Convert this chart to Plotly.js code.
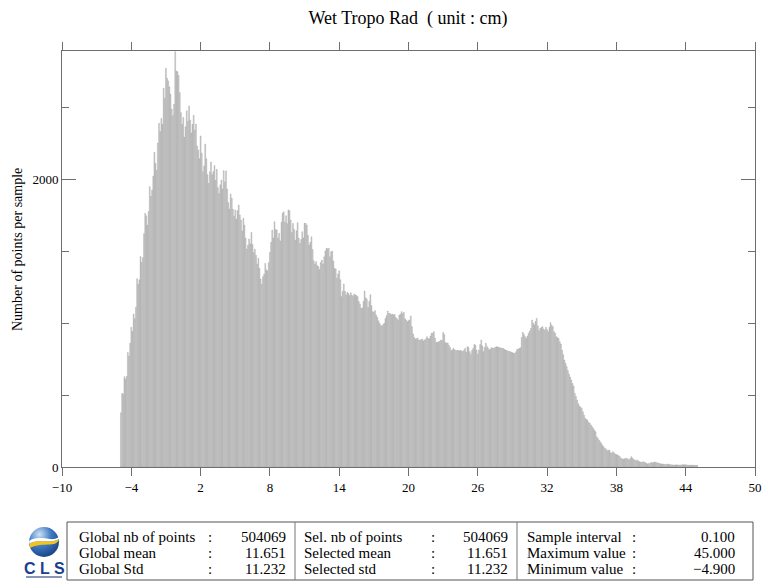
<!DOCTYPE html>
<html>
<head>
<meta charset="utf-8">
<script src="https://cdn.plot.ly/plotly-3.0.1.min.js"></script>
<style>
html,body{margin:0;padding:0;background:#fff;}
#chart{width:763px;height:581px;}
</style>
</head>
<body>
<div id="chart"></div>
<script>
// ---- data ----
const chartTitle = 'Wet Tropo Rad \u00a0( unit : cm)';
const yAxisTitle = 'Number of points per sample';
const minValue = -4.9;        // first sample (cm)
const sampleInterval = 0.1;   // bin width (cm)
const xTickVals = [-10, -4, 2, 8, 14, 20, 26, 32, 38, 44, 50];
const yTickVals = [0, 2000];

// counts per 0.1 cm sample, one row per 1 cm (-4.9 ... 45.0)
const counts = [
  377, 512, 505, 627, 610, 630, 796, 770, 860, 970,
  940, 1062, 1030, 1110, 1308, 1270, 1300, 1461, 1420, 1455,
  1620, 1762, 1745, 1680, 1775, 1947, 1880, 1924, 2020, 2185,
  2109, 2060, 2250, 2387, 2330, 2421, 2380, 2630, 2560, 2769,
  2700, 2681, 2640, 2590, 2486, 2440, 2520, 2884, 2750, 2745,
  2720, 2600, 2461, 2380, 2428, 2290, 2363, 2474, 2400, 2507,
  2410, 2320, 2380, 2442, 2340, 2382, 2230, 2201, 2140, 2299,
  2180, 2051, 2090, 2243, 2140, 2030, 1970, 2050, 2118, 2030,
  2051, 2093, 1990, 2067, 1940, 1900, 1960, 1993, 1930, 2058,
  1980, 2056, 1930, 1836, 1790, 1896, 1866, 1790, 1740, 1785,
  1720, 1780, 1819, 1750, 1715, 1640, 1727, 1680, 1590, 1514,
  1540, 1583, 1550, 1630, 1546, 1490, 1512, 1470, 1410, 1449,
  1380, 1305, 1270, 1322, 1340, 1414, 1370, 1361, 1420, 1491,
  1560, 1646, 1590, 1704, 1650, 1646, 1590, 1623, 1570, 1700,
  1762, 1773, 1700, 1745, 1690, 1785, 1780, 1715, 1630, 1692,
  1650, 1576, 1640, 1697, 1590, 1553, 1580, 1634, 1590, 1692,
  1692, 1680, 1610, 1542, 1560, 1599, 1510, 1433, 1410, 1426,
  1400, 1391, 1370, 1420, 1437, 1410, 1460, 1500, 1519, 1515,
  1519, 1460, 1495, 1500, 1430, 1380, 1375, 1310, 1340, 1363,
  1300, 1183, 1220, 1271, 1220, 1194, 1213, 1205, 1190, 1210,
  1194, 1185, 1201, 1195, 1190, 1183, 1150, 1132, 1105, 1102,
  1150, 1222, 1175, 1164, 1108, 1150, 1197, 1120, 1079, 1075,
  1086, 1055, 1039, 1015, 998, 985, 979, 990, 998, 1032,
  1050, 1083, 1065, 1067, 1058, 1062, 1055, 1060, 1040, 1030,
  1021, 1055, 1060, 1079, 1065, 1074, 1030, 1021, 1009, 1015,
  1021, 1049, 975, 924, 900, 889, 890, 896, 880, 882,
  885, 887, 875, 882, 890, 905, 892, 891, 910, 928,
  930, 940, 895, 866, 865, 870, 872, 882, 878, 935,
  920, 863, 862, 861, 845, 830, 808, 815, 824, 815,
  808, 810, 812, 805, 812, 805, 801, 812, 824, 795,
  836, 830, 801, 782, 810, 824, 852, 845, 812, 785,
  812, 850, 882, 840, 801, 830, 859, 836, 825, 812,
  820, 829, 826, 824, 830, 836, 834, 832, 829, 826,
  824, 824, 818, 812, 810, 805, 803, 801, 798, 794,
  790, 789, 800, 817, 818, 824, 828, 900, 935, 921,
  905, 893, 910, 928, 945, 963, 1021, 1000, 986, 1010,
  1032, 980, 947, 963, 968, 975, 958, 951, 970, 955,
  940, 970, 1002, 985, 975, 940, 928, 905, 898, 893,
  870, 854, 812, 780, 743, 720, 697, 670, 646, 625,
  604, 580, 562, 512, 490, 465, 440, 424, 415, 407,
  384, 360, 338, 330, 326, 310, 303, 292, 280, 268,
  255, 245, 210, 199, 187, 175, 164, 150, 141, 130,
  125, 113, 116, 118, 100, 95, 106, 98, 90, 87,
  83, 78, 72, 60, 57, 53, 58, 58, 60, 55,
  49, 60, 72, 60, 53, 48, 44, 49, 42, 37,
  34, 32, 37, 34, 30, 26, 21, 24, 25, 32,
  30, 30, 35, 33, 30, 28, 25, 23, 21, 21,
  20, 18, 16, 21, 19, 17, 16, 15, 14, 14,
  14, 15, 14, 13, 14, 14, 15, 16, 15, 16,
  14, 13, 13, 12, 12, 13, 12, 12, 11, 12
];

// statistics table
const statLabels1 = ['Global nb of points', 'Global mean', 'Global Std'];
const statValues1 = ['504069', '11.651', '11.232'];
const statLabels2 = ['Sel. nb of points', 'Selected mean', 'Selected std'];
const statValues2 = ['504069', '11.651', '11.232'];
const statLabels3 = ['Sample interval', 'Maximum value', 'Minimum value'];
const statValues3 = ['0.100', '45.000', '\u22124.900'];

// ---- build ----
const binCenters = counts.map((_, i) => +(minValue + i * sampleInterval).toFixed(1));

const W = 763, H = 581;
const L = 62, R = 755, T = 51, B = 467;
const px = x => (x - L) / (R - L);
const py = y => (B - y) / (B - T);

const serif = 'Liberation Serif, Times New Roman, serif';
const axisColor = '#6e6e6e';

const trace = {
  type: 'bar',
  x: binCenters,
  y: counts,
  width: sampleInterval * 0.8,
  marker: { color: '#cfcfcf', line: { color: '#8c8c8c', width: 0.3 } },
  hoverinfo: 'x+y'
};

const annotations = [];
const shapes = [];
const rows = [537, 553, 569];
const tfont = { family: serif, size: 15, color: '#000' };
function txt(x, y, text, anchor) {
  annotations.push({ xref: 'paper', yref: 'paper', x: px(x), y: py(y), text: text,
    showarrow: false, xanchor: anchor, yanchor: 'middle', font: tfont });
}
for (let i = 0; i < 3; i++) {
  txt(77, rows[i], statLabels1[i], 'left');
  txt(210, rows[i], ':', 'center');
  txt(288, rows[i], statValues1[i], 'right');
  txt(302, rows[i], statLabels2[i], 'left');
  txt(433, rows[i], ':', 'center');
  txt(510, rows[i], statValues2[i], 'right');
  txt(525, rows[i], statLabels3[i], 'left');
  txt(634, rows[i], ':', 'center');
  txt(737, rows[i], statValues3[i], 'right');
}
shapes.push({ type: 'rect', xref: 'paper', yref: 'paper', x0: px(67), x1: px(753), y0: py(522), y1: py(580),
  line: { color: '#555', width: 1 }, fillcolor: 'rgba(0,0,0,0)' });
[295, 517].forEach(xx => shapes.push({ type: 'line', xref: 'paper', yref: 'paper',
  x0: px(xx), x1: px(xx), y0: py(522), y1: py(580), line: { color: '#777', width: 1 } }));

// y axis title
annotations.push({ xref: 'paper', yref: 'paper', x: px(17), y: py(250), text: yAxisTitle,
  textangle: -90, showarrow: false, xanchor: 'center', yanchor: 'middle',
  font: { family: serif, size: 14, color: '#000' } });

// CLS logo
const globeSvg = '<svg xmlns="http://www.w3.org/2000/svg" width="64" height="64" viewBox="0 0 64 64">' +
  '<defs><radialGradient id="g" cx="0.35" cy="0.25" r="0.85">' +
  '<stop offset="0" stop-color="#cfe1f5"/><stop offset="0.45" stop-color="#3f7cc4"/>' +
  '<stop offset="1" stop-color="#143a78"/></radialGradient></defs>' +
  '<circle cx="32" cy="32" r="30" fill="url(#g)"/>' +
  '<path d="M2,30 C14,22 30,24 44,26 C52,27 58,25 62,22 L62,26 C56,30 48,31 40,31 C26,31 12,29 3,36 Z" fill="#ffffff"/>' +
  '<path d="M3,36 C12,29 26,31 40,31 C48,31 56,30 62,26 C61,31 58,34 52,36 C42,38 26,36 14,40 C9,41 6,43 4,44 Z" fill="#f4c41c"/>' +
  '</svg>';
const images = [{
  source: 'data:image/svg+xml;charset=utf-8,' + encodeURIComponent(globeSvg),
  xref: 'paper', yref: 'paper', x: px(28), y: py(526), sizex: px(60) - px(28), sizey: py(526) - py(558),
  xanchor: 'left', yanchor: 'top', sizing: 'stretch', layer: 'above'
}];
annotations.push({ xref: 'paper', yref: 'paper', x: px(44), y: py(568), text: 'C L S', showarrow: false,
  xanchor: 'center', yanchor: 'middle',
  font: { family: 'Liberation Sans, Arial, sans-serif', size: 16, color: '#1b3f8c', weight: 'bold' } });
shapes.push({ type: 'line', xref: 'paper', yref: 'paper', x0: px(26), x1: px(62), y0: py(577), y1: py(577),
  line: { color: '#8a96b8', width: 2 } });

const layout = {
  width: W, height: H,
  margin: { l: L, r: W - R, t: T, b: H - B, pad: 0 },
  paper_bgcolor: '#fff', plot_bgcolor: '#fff',
  showlegend: false,
  bargap: 0,
  title: { text: chartTitle, font: { family: serif, size: 18, color: '#000' },
    x: px(408), xref: 'paper', xanchor: 'center', y: 1 - 18 / H, yref: 'container', yanchor: 'middle' },
  xaxis: {
    range: [-10, 50], tickvals: xTickVals, ticks: 'outside', ticklen: 8, tickwidth: 1, tickcolor: axisColor,
    showline: true, linecolor: axisColor, linewidth: 1, mirror: 'ticks', showgrid: false, zeroline: false,
    tickfont: { family: serif, size: 13, color: '#000' }, fixedrange: true
  },
  yaxis: {
    range: [0, 2889], tickvals: yTickVals, ticks: 'inside', ticklen: 14, tickwidth: 1, tickcolor: axisColor,
    minor: { dtick: 500, tick0: 0, ticks: 'inside', ticklen: 7, tickcolor: axisColor, showgrid: false },
    showline: true, linecolor: axisColor, linewidth: 1, mirror: 'ticks', showgrid: false, zeroline: false,
    tickfont: { family: serif, size: 13, color: '#000' }, fixedrange: true
  },
  annotations: annotations,
  shapes: shapes,
  images: images
};

Plotly.newPlot('chart', [trace], layout, { displayModeBar: false, staticPlot: true });
</script>
</body>
</html>
